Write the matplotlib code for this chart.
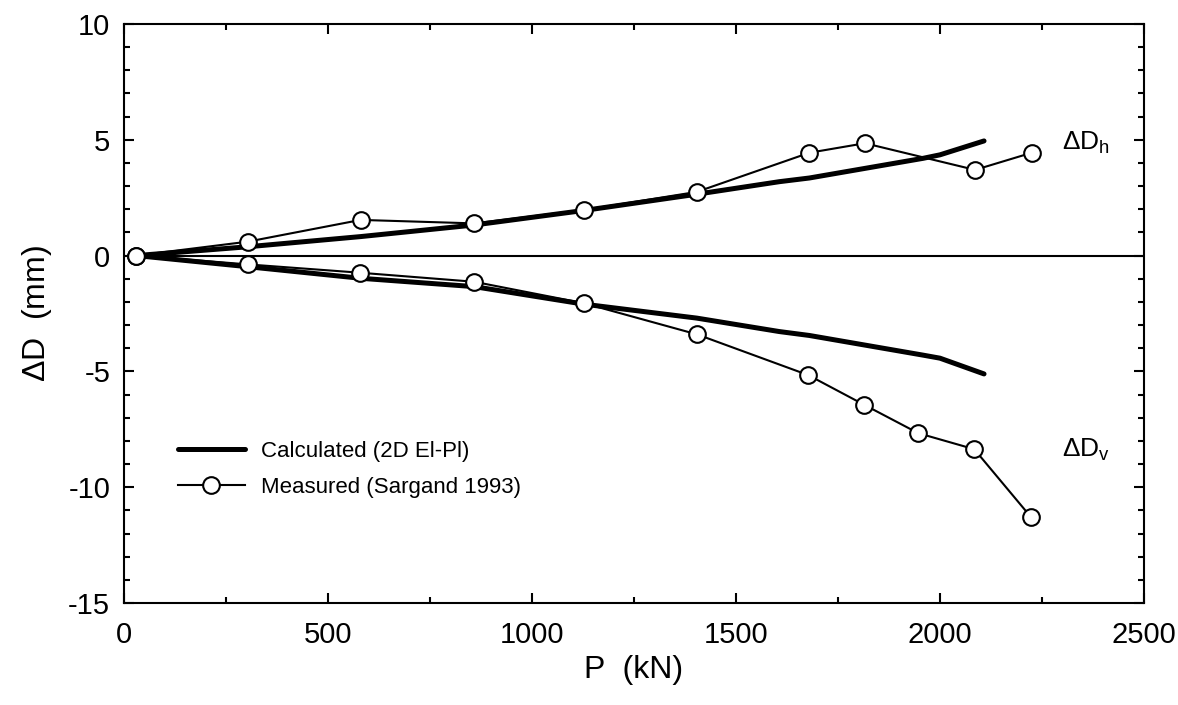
import numpy as np
import matplotlib
matplotlib.use('Agg')
import matplotlib.pyplot as plt
from matplotlib.ticker import MultipleLocator

plt.rcParams['font.family'] = ['Liberation Sans', 'DejaVu Sans']
plt.rcParams['axes.unicode_minus'] = False
plt.rcParams['mathtext.fontset'] = 'custom'
plt.rcParams['mathtext.rm'] = 'Liberation Sans'

# measured (Sargand 1993)
p_h_meas = [30, 303, 580, 858, 1128, 1404, 1680, 1816, 2086, 2225]
dh_meas = [0.0, 0.6, 1.54, 1.39, 1.97, 2.75, 4.44, 4.85, 3.70, 4.44]
p_v_meas = [30, 303, 578, 858, 1128, 1404, 1677, 1815, 1947, 2084, 2222]
dv_meas = [0.0, -0.38, -0.74, -1.13, -2.06, -3.4, -5.16, -6.45, -7.67, -8.36, -11.27]

# calculated (2D El-Pl)
p_calc = [30, 303, 580, 858, 1128, 1404, 1606, 1680, 1959, 2000, 2108]
dh_calc = [0.0, 0.38, 0.82, 1.32, 1.95, 2.65, 3.19, 3.35, 4.2, 4.35, 4.95]
dv_calc = [0.0, -0.48, -0.98, -1.34, -2.1, -2.7, -3.28, -3.45, -4.3, -4.43, -5.11]

fig = plt.figure(figsize=(11.78, 7.05), dpi=100)
ax = fig.add_axes([0.1053, 0.1447, 0.8658, 0.8213])

ax.axhline(0, color='black', lw=1.5, zorder=1)

ax.plot(p_calc, dh_calc, color='black', lw=3.6, solid_capstyle='round', zorder=2,
        label='Calculated (2D El-Pl)')
ax.plot(p_calc, dv_calc, color='black', lw=3.6, solid_capstyle='round', zorder=2)

ax.plot(p_h_meas, dh_meas, color='black', lw=1.5, marker='o', ms=12, mfc='white',
        mec='black', mew=1.5, zorder=3, label='Measured (Sargand 1993)')
ax.plot(p_v_meas, dv_meas, color='black', lw=1.5, marker='o', ms=12, mfc='white',
        mec='black', mew=1.5, zorder=3)

ax.text(2298, 4.85, r'$\Delta$D$_\mathrm{h}$', fontsize=19, va='center', ha='left')
ax.text(2298, -8.4, r'$\Delta$D$_\mathrm{v}$', fontsize=19, va='center', ha='left')

ax.set_xlim(0, 2500)
ax.set_ylim(-15, 10)
ax.xaxis.set_major_locator(MultipleLocator(500))
ax.xaxis.set_minor_locator(MultipleLocator(250))
ax.yaxis.set_major_locator(MultipleLocator(5))
ax.yaxis.set_minor_locator(MultipleLocator(1))
ax.tick_params(which='both', direction='in', top=True, right=True, width=1.5)
ax.tick_params(which='major', length=7.5, labelsize=21)
ax.tick_params(which='minor', length=4.5)
ax.tick_params(axis='x', which='major', pad=13)
ax.tick_params(axis='y', which='major', pad=10)
for s in ax.spines.values():
    s.set_linewidth(1.5)

ax.set_xlabel('P  (kN)', fontsize=23, labelpad=4)
ax.set_ylabel(r'$\Delta$D  (mm)', fontsize=23, labelpad=10)

leg = ax.legend(loc='center left', bbox_to_anchor=(0.053, 0.2306), frameon=False,
                fontsize=16, handlelength=3.0, handletextpad=0.75, labelspacing=0.67,
                borderpad=0, borderaxespad=0)

fig.savefig('out.png', dpi=100)
